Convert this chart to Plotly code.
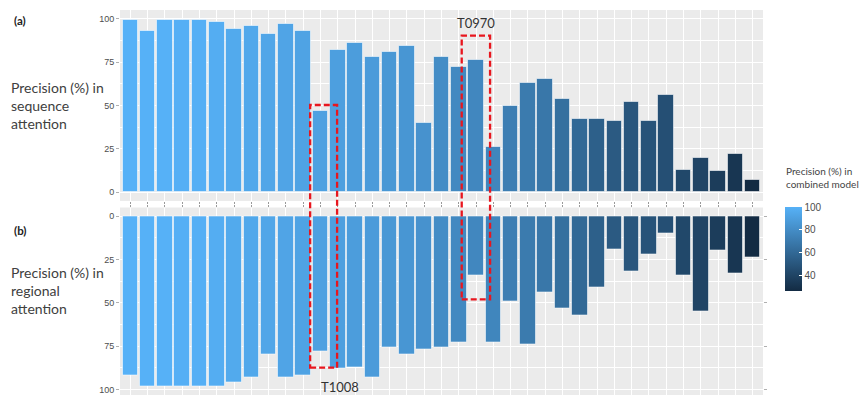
import plotly.graph_objects as go

# Targets, ordered by precision of the combined model
targets = list(range(1, 38))

# Precision (%) in sequence attention (panel a)
seq_precision = [99, 93, 99, 99, 99, 98, 94, 96, 91, 97, 93, 47, 82, 86, 78, 81, 84, 40,
                 78, 72, 76, 26, 50, 63, 65, 54, 42, 42, 41, 52, 41, 56, 13, 20, 12, 22, 7]

# Precision (%) in regional attention (panel b)
reg_precision = [92, 98, 98, 98, 98, 98, 96, 93, 80, 93, 92, 78, 88, 87, 93, 76, 80, 77,
                 76, 73, 34, 73, 49, 74, 44, 53, 57, 41, 19, 32, 22, 10, 34, 55, 20, 33, 24]

# Precision (%) in combined model (bar fill)
comb_precision = [100, 100, 100, 99, 99, 98, 96, 95, 94, 93, 92, 91, 90, 89, 88, 86, 85, 83,
                  80, 78, 77, 76, 72, 70, 68, 64, 60, 55, 52, 50, 48, 46, 42, 40, 36, 32, 26]

y_ticks = [0, 25, 50, 75, 100]
cbar_ticks = [40, 60, 80, 100]

# Highlighted targets: (label, bar index)
highlights = [("T1008", 12), ("T0970", 21)]

W, H = 861, 395
L, R, T, B = 120, 98, 10, 0
PW, PH = W - L - R, H - T - B


def px_x(p):
    return (p - L) / PW


def px_y(p):
    return (H - B - p) / PH


bar_line = dict(color="rgba(255,255,255,0.55)", width=1)

fig = go.Figure()
fig.add_trace(go.Bar(
    x=targets, y=seq_precision, width=0.9,
    marker=dict(color=comb_precision, coloraxis="coloraxis", line=bar_line),
    xaxis="x", yaxis="y", showlegend=False, hoverinfo="x+y",
))
fig.add_trace(go.Bar(
    x=targets, y=reg_precision, width=0.9,
    marker=dict(color=comb_precision, coloraxis="coloraxis", line=bar_line),
    xaxis="x2", yaxis="y2", showlegend=False, hoverinfo="x+y",
))

tick_font = dict(family="Liberation Sans, Arial", size=9, color="#4D4D4D")

xaxis_common = dict(
    range=[0.4, 37.6], tickvals=targets, showticklabels=False,
    showgrid=True, gridcolor="white", gridwidth=1,
    ticks="outside", ticklen=2, tickcolor="#9A9A9A", zeroline=False,
)
yaxis_common = dict(
    tickvals=y_ticks, tickfont=tick_font,
    showgrid=True, gridcolor="white", gridwidth=1.1,
    minor=dict(dtick=12.5, showgrid=True, gridcolor="white", gridwidth=0.5, ticks=""),
    ticks="outside", ticklen=3, tickcolor="#B0B0B0", zeroline=False,
)

fig.update_layout(
    width=W, height=H,
    margin=dict(l=L, r=R, t=T, b=B),
    paper_bgcolor="white", plot_bgcolor="#EBEBEB",
    bargap=0,
    xaxis=dict(domain=[0, 1], anchor="y", **xaxis_common),
    yaxis=dict(domain=[px_y(201), 1], range=[-5, 105], anchor="x", **yaxis_common),
    xaxis2=dict(domain=[0, 1], anchor="y2", side="top", **xaxis_common),
    yaxis2=dict(domain=[0, px_y(207.5)], range=[103.1, -5], anchor="x2",
                mirror="ticks", **yaxis_common),
    coloraxis=dict(
        colorscale=[[0, "#132B43"], [1, "#56B1F7"]],
        cmin=26, cmax=100,
        colorbar=dict(
            x=px_x(785), xanchor="left", xpad=0,
            y=px_y(207), yanchor="top", ypad=0,
            len=84, lenmode="pixels", thickness=17,
            tickvals=cbar_ticks, ticks="inside", tickcolor="white", ticklen=3,
            tickfont=dict(family="Liberation Sans, Arial", size=10, color="#4D4D4D"),
            outlinewidth=0, title=dict(text=""),
        ),
    ),
)

# Dashed red boxes around the highlighted targets, spanning both panels
box_style = dict(color="#E8161E", width=2.3, dash="6px,3px")
box_y = {"T1008": (px_y(367.7), px_y(105)), "T0970": (px_y(299.3), px_y(35.7))}
box_dx = {"T1008": (-0.6, 0.96), "T0970": (-0.83, 0.81)}
for label, idx in highlights:
    y0, y1 = box_y[label]
    dx0, dx1 = box_dx[label]
    fig.add_shape(type="rect", xref="x", yref="paper",
                  x0=idx + dx0, x1=idx + dx1, y0=y0, y1=y1,
                  line=box_style, fillcolor="rgba(0,0,0,0)", layer="above")

label_font = dict(family="Lato, Open Sans, sans-serif", size=13, color="#333333")
fig.add_annotation(text="T1008", xref="x", yref="paper", x=13.13, y=px_y(386.7),
                   showarrow=False, font=label_font, xanchor="center", yanchor="middle")
fig.add_annotation(text="T0970", xref="x", yref="paper", x=21.0, y=px_y(22.7),
                   showarrow=False, font=label_font, xanchor="center", yanchor="middle")

# Panel letters and axis titles
side_font = dict(family="Lato, Open Sans, sans-serif", size=14, color="#404040")
letter_font = dict(family="Lato, Open Sans, sans-serif", size=11.5, color="#222222")
fig.add_annotation(text="<b>(a)</b>", xref="paper", yref="paper", x=px_x(12), y=px_y(20.5),
                   showarrow=False, font=letter_font, xanchor="left", yanchor="middle")
fig.add_annotation(text="<b>(b)</b>", xref="paper", yref="paper", x=px_x(12), y=px_y(230),
                   showarrow=False, font=letter_font, xanchor="left", yanchor="middle")
fig.add_annotation(text="Precision (%) in<br>sequence<br>attention", xref="paper", yref="paper",
                   x=px_x(9), y=px_y(105.5), showarrow=False, font=side_font,
                   xanchor="left", yanchor="middle", align="left")
fig.add_annotation(text="Precision (%) in<br>regional<br>attention", xref="paper", yref="paper",
                   x=px_x(9), y=px_y(290.5), showarrow=False, font=side_font,
                   xanchor="left", yanchor="middle", align="left")

# Colour bar title
fig.add_annotation(text="Precision (%) in<br>combined model", xref="paper", yref="paper",
                   x=px_x(784), y=px_y(177), showarrow=False,
                   font=dict(family="Lato, Open Sans, sans-serif", size=10, color="#444444"),
                   xanchor="left", yanchor="middle", align="left")

fig.write_html("out.html")
